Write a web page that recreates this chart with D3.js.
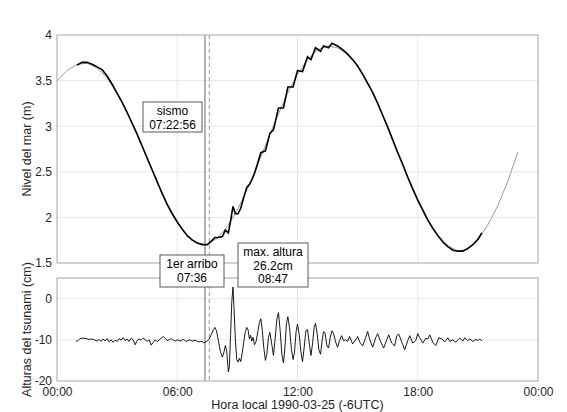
<!DOCTYPE html>
<html>
<head>
<meta charset="utf-8">
<script src="https://cdn.jsdelivr.net/npm/d3@7"></script>
<style>
  body { margin: 0; background: #fff; }
  svg { font-family: "Liberation Sans", Arial, Helvetica, sans-serif; }
</style>
</head>
<body>
<svg width="567" height="412"></svg>
<script>
// x ticks (hours since local midnight)
const xTicks = [0, 6, 12, 18, 24];
const xTickLabels = ["00:00", "06:00", "12:00", "18:00", "00:00"];
const levelTicks = [1.5, 2, 2.5, 3, 3.5, 4];
const tsunamiTicks = [-20, -10, 0];

// predicted tide (gray), metres
const predHours = [0, 0.5, 1, 1.5, 2, 2.5, 3, 3.5, 4, 4.5, 5, 5.5, 6, 6.5, 7, 7.5, 8, 8.5, 9, 9.5,
  10, 10.5, 11, 11.5, 12, 12.5, 13, 13.5, 14, 14.5, 15, 15.5, 16, 16.5, 17, 17.5, 18, 18.5, 19, 19.5,
  20, 20.5, 21, 21.5, 22, 22.5, 23];
const predLevel = [3.50, 3.61, 3.68, 3.69, 3.64, 3.53, 3.37, 3.16, 2.92, 2.65, 2.39, 2.15, 1.95, 1.80, 1.72, 1.71, 1.77, 1.90, 2.08, 2.31,
  2.57, 2.84, 3.11, 3.36, 3.57, 3.73, 3.84, 3.88, 3.86, 3.79, 3.66, 3.48, 3.25, 2.99, 2.72, 2.45, 2.20, 1.98, 1.81, 1.69,
  1.63, 1.65, 1.75, 1.92, 2.13, 2.40, 2.72];

// observed sea level (black), metres
const obsHours = [1.0, 1.25, 1.5, 1.75, 2.0, 2.25, 2.5, 2.75, 3.0, 3.25, 3.5, 3.75, 4.0, 4.25, 4.5, 4.75, 5.0, 5.25, 5.5, 5.75,
  6.0, 6.25, 6.5, 6.75, 7.0, 7.25, 7.5, 7.7, 7.88, 8.05, 8.25, 8.4, 8.55, 8.66, 8.78, 8.9, 9.03, 9.17, 9.32, 9.47,
  9.6, 9.72, 9.85, 10.02, 10.17, 10.4, 10.62, 10.8, 11.05, 11.3, 11.52, 11.78, 12.0, 12.25, 12.5, 12.67, 12.9, 13.15, 13.3, 13.55,
  13.72, 14.0, 14.25, 14.5, 14.75, 15.0, 15.25, 15.5, 15.75, 16.0, 16.25, 16.5, 16.75, 17.0, 17.25, 17.5, 17.75, 18.0, 18.25, 18.5,
  18.75, 19.0, 19.25, 19.5, 19.75, 20.0, 20.25, 20.5, 20.75, 21.0, 21.2];
const obsLevel = [3.67, 3.70, 3.70, 3.68, 3.65, 3.62, 3.55, 3.46, 3.36, 3.26, 3.15, 3.03, 2.91, 2.78, 2.65, 2.52, 2.39, 2.26, 2.14, 2.04,
  1.95, 1.87, 1.80, 1.75, 1.72, 1.70, 1.70, 1.74, 1.78, 1.78, 1.79, 1.86, 1.83, 1.96, 2.12, 2.04, 2.04, 2.10, 2.22, 2.33,
  2.36, 2.41, 2.48, 2.60, 2.71, 2.73, 2.92, 2.96, 3.20, 3.20, 3.43, 3.43, 3.61, 3.60, 3.76, 3.73, 3.86, 3.82, 3.88, 3.86,
  3.91, 3.88, 3.84, 3.79, 3.73, 3.66, 3.57, 3.47, 3.37, 3.25, 3.12, 2.99, 2.85, 2.71, 2.58, 2.44, 2.31, 2.19, 2.08, 1.97,
  1.88, 1.80, 1.73, 1.68, 1.64, 1.63, 1.63, 1.66, 1.70, 1.76, 1.83];

// tsunami residual, cm
const resHours = [0.95, 1.05, 1.15, 1.3, 1.45, 1.6, 1.75, 1.9, 2.0, 2.1, 2.2, 2.3, 2.4, 2.5, 2.6, 2.7, 2.8, 2.9, 3.0, 3.1,
  3.2, 3.3, 3.4, 3.5, 3.6, 3.7, 3.8, 3.9, 4.0, 4.1, 4.2, 4.3, 4.4, 4.5, 4.6, 4.7, 4.8, 4.9, 5.0, 5.1,
  5.2, 5.3, 5.4, 5.5, 5.6, 5.7, 5.8, 5.9, 6.0, 6.15, 6.3, 6.45, 6.6, 6.75, 6.9, 7.05, 7.2, 7.35, 7.5, 7.6,
  7.7, 7.8, 7.88, 7.96, 8.05, 8.15, 8.25, 8.33, 8.4, 8.47, 8.55, 8.6, 8.66, 8.72, 8.78, 8.83, 8.9, 8.97, 9.03, 9.1,
  9.17, 9.24, 9.32, 9.4, 9.47, 9.53, 9.6, 9.66, 9.72, 9.78, 9.85, 9.93, 10.02, 10.1, 10.17, 10.24, 10.32, 10.4, 10.47, 10.55,
  10.62, 10.7, 10.8, 10.88, 10.97, 11.05, 11.13, 11.22, 11.3, 11.37, 11.45, 11.52, 11.6, 11.7, 11.78, 11.85, 11.93, 12.0, 12.08, 12.17,
  12.25, 12.33, 12.42, 12.5, 12.58, 12.67, 12.75, 12.83, 12.9, 12.98, 13.07, 13.15, 13.22, 13.3, 13.38, 13.47, 13.55, 13.63, 13.72, 13.8,
  13.9, 14.0, 14.1, 14.2, 14.3, 14.4, 14.5, 14.6, 14.75, 14.9, 15.0, 15.1, 15.25, 15.4, 15.5, 15.6, 15.75, 15.9, 16.0, 16.15,
  16.3, 16.45, 16.55, 16.7, 16.85, 16.95, 17.05, 17.2, 17.35, 17.5, 17.6, 17.75, 17.9, 18.0, 18.1, 18.25, 18.4, 18.5, 18.6, 18.75,
  18.9, 19.05, 19.2, 19.35, 19.5, 19.6, 19.75, 19.9, 20.0, 20.1, 20.25, 20.35, 20.5, 20.6, 20.75, 20.9, 21.0, 21.1, 21.2];
const resCm = [-10.4, -10.2, -9.7, -9.6, -9.7, -9.9, -9.8, -10.1, -10.3, -9.9, -10.4, -9.8, -10.3, -9.7, -10.5, -10.0, -10.6, -10.1, -10.4, -9.7,
  -10.1, -9.5, -10.2, -9.8, -10.4, -9.6, -10.0, -11.2, -10.2, -9.8, -10.1, -9.6, -10.0, -10.4, -10.0, -11.3, -10.6, -10.0, -10.5, -10.0,
  -9.6, -9.2, -9.6, -10.2, -10.0, -9.7, -10.1, -10.3, -10.0, -10.3, -9.9, -10.4, -10.0, -10.3, -10.1, -10.5, -10.4, -10.7, -10.3, -9.8,
  -8.7, -7.6, -7.0, -7.8, -10.2, -12.8, -14.2, -13.0, -11.4, -12.8, -17.8, -16.5, -9.0, -1.0, 2.8, -2.0, -10.0, -14.8, -15.4, -14.5,
  -15.3, -13.2, -10.5, -8.0, -7.0, -7.5, -9.8, -8.9, -10.3, -9.4, -11.2, -10.5, -8.0, -5.8, -4.9, -7.5, -12.0, -15.0, -13.5, -9.5,
  -8.2, -10.5, -13.8, -10.0, -5.0, -3.4, -7.5, -13.5, -15.6, -12.0, -6.0, -4.4, -7.0, -12.5, -14.8, -13.0, -8.0, -6.2, -8.5, -13.0,
  -15.3, -12.0, -7.8, -7.5, -10.5, -13.8, -11.0, -7.0, -6.0, -8.5, -12.5, -13.5, -10.5, -8.0, -8.5, -11.5, -12.0, -9.5, -7.8, -8.5,
  -10.5, -11.8, -10.2, -9.0, -10.2, -10.0, -10.4, -9.2, -11.0, -10.0, -9.2, -10.5, -11.5, -9.5, -8.0, -9.8, -11.8, -9.5, -8.5, -10.5,
  -12.0, -10.0, -8.8, -10.8, -11.5, -9.0, -8.6, -10.5, -12.4, -10.2, -9.0, -10.8, -10.2, -8.5, -9.5, -10.8, -9.6, -9.8, -8.8, -10.6,
  -11.4, -9.5, -9.8, -10.5, -9.5, -10.4, -10.0, -10.6, -10.0, -9.6, -10.3, -9.5, -10.2, -9.8, -10.4, -9.9, -10.2, -9.8, -10.3];

const quakeHour = 7 + 22 / 60 + 56 / 3600;   // 07:22:56
const arrivalHour = 7 + 36 / 60;            // 07:36

const svg = d3.select("svg");
const left = 57, right = 538;
const topPanel = { y0: 35, y1: 263 };
const botPanel = { y0: 278, y1: 381 };
const gridColor = "#e8e8e8", boxColor = "#a6a6a6", inkColor = "#262626";

const x = d3.scaleLinear().domain([0, 24]).range([left, right]);
const yTop = d3.scaleLinear().domain([1.5, 4]).range([topPanel.y1, topPanel.y0]);
const yBot = d3.scaleLinear().domain([-20, 5]).range([botPanel.y1, botPanel.y0]);

function panel(y, ticks, p) {
  const g = svg.append("g");
  g.append("rect").attr("x", left).attr("y", p.y0)
    .attr("width", right - left).attr("height", p.y1 - p.y0).attr("fill", "#fff");
  // grid
  g.selectAll(".gx").data(xTicks.slice(1, -1)).enter().append("line")
    .attr("x1", d => x(d)).attr("x2", d => x(d)).attr("y1", p.y0).attr("y2", p.y1)
    .attr("stroke", gridColor);
  g.selectAll(".gy").data(ticks.filter(d => y(d) > p.y0 + 1 && y(d) < p.y1 - 1)).enter().append("line")
    .attr("x1", left).attr("x2", right).attr("y1", d => y(d)).attr("y2", d => y(d))
    .attr("stroke", gridColor);
  // y axis labels (plain hyphen minus like the original)
  const ax = g.append("g").attr("transform", `translate(${left},0)`)
    .call(d3.axisLeft(y).tickValues(ticks).tickSize(0).tickPadding(5).tickFormat(d => String(d)));
  ax.select(".domain").remove();
  ax.selectAll("text").attr("font-size", 12).attr("fill", inkColor).attr("font-family", null);
  return g;
}

const gTop = panel(yTop, levelTicks, topPanel);
const gBot = panel(yBot, tsunamiTicks, botPanel);

// event lines in both panels
[[gTop, topPanel], [gBot, botPanel]].forEach(([g, p]) => {
  g.append("line").attr("x1", x(quakeHour)).attr("x2", x(quakeHour))
    .attr("y1", p.y0).attr("y2", p.y1).attr("stroke", "#a0a0a0").attr("stroke-width", 1.6);
  g.append("line").attr("x1", x(arrivalHour)).attr("x2", x(arrivalHour))
    .attr("y1", p.y0).attr("y2", p.y1).attr("stroke", "#9a9a9a").attr("stroke-width", 1)
    .attr("stroke-dasharray", "4,3");
});

// tide lines
const predLine = d3.line().x((d, i) => x(predHours[i])).y(d => yTop(d));
gTop.append("path").datum(predLevel).attr("d", predLine)
  .attr("fill", "none").attr("stroke", "#9c9c9c").attr("stroke-width", 1);
const obsLine = d3.line().x((d, i) => x(obsHours[i])).y(d => yTop(d));
gTop.append("path").datum(obsLevel).attr("d", obsLine)
  .attr("fill", "none").attr("stroke", "#000").attr("stroke-width", 1.6);

const resLine = d3.line().x((d, i) => x(resHours[i])).y(d => yBot(d));
gBot.append("path").datum(resCm).attr("d", resLine)
  .attr("fill", "none").attr("stroke", "#000").attr("stroke-width", 0.9);

// panel borders
[topPanel, botPanel].forEach(p => {
  svg.append("rect").attr("x", left).attr("y", p.y0)
    .attr("width", right - left).attr("height", p.y1 - p.y0)
    .attr("fill", "none").attr("stroke", boxColor).attr("stroke-width", 1);
});

// x axis labels (bottom panel)
const xa = svg.append("g").attr("transform", `translate(0,${botPanel.y1})`)
  .call(d3.axisBottom(x).tickValues(xTicks).tickSize(0).tickPadding(6)
    .tickFormat((d, i) => xTickLabels[i]));
xa.select(".domain").remove();
xa.selectAll("text").attr("font-size", 12).attr("fill", inkColor).attr("font-family", null);

svg.append("text").attr("x", x(12)).attr("y", 409).attr("text-anchor", "middle")
  .attr("font-size", 12.5).attr("fill", inkColor).text("Hora local 1990-03-25 (-6UTC)");

svg.append("text").attr("transform", `translate(31,${(topPanel.y0 + topPanel.y1) / 2}) rotate(-90)`)
  .attr("text-anchor", "middle").attr("font-size", 12.5).attr("fill", inkColor)
  .text("Nivel del mar (m)");
svg.append("text").attr("transform", `translate(31,${(botPanel.y0 + botPanel.y1) / 2}) rotate(-90)`)
  .attr("text-anchor", "middle").attr("font-size", 12.5).attr("fill", inkColor)
  .text("Alturas del tsunami (cm)");

// annotation boxes
const notes = [
  { lines: ["sismo", "07:22:56"], x0: 143, y0: 102, w: 59, h: 30 },
  { lines: ["1er arribo", "07:36"], x0: 160, y0: 255, w: 64, h: 32 },
  { lines: ["max. altura", "26.2cm", "08:47"], x0: 238, y0: 243, w: 70, h: 44 }
];
notes.forEach(n => {
  const g = svg.append("g");
  g.append("rect").attr("x", n.x0).attr("y", n.y0).attr("width", n.w).attr("height", n.h)
    .attr("fill", "#fff").attr("stroke", "#5a5a5a").attr("stroke-width", 1);
  n.lines.forEach((t, i) => {
    g.append("text").attr("x", n.x0 + n.w / 2).attr("y", n.y0 + 13 + i * 13.5)
      .attr("text-anchor", "middle").attr("font-size", 12).attr("fill", "#000").text(t);
  });
});
</script>
</body>
</html>
